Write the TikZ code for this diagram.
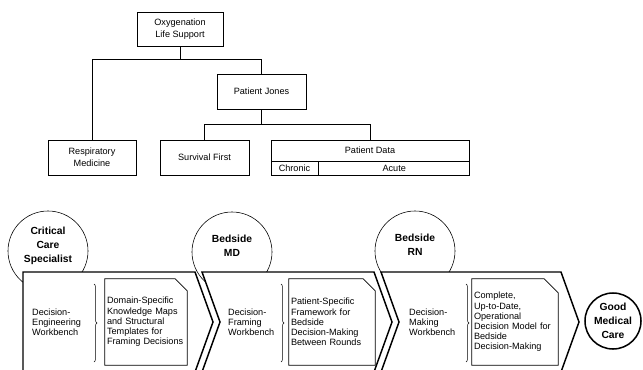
\documentclass[tikz,border=0pt]{standalone}
\usepackage{fontspec}
\setmainfont{Liberation Sans}
\usetikzlibrary{positioning,calc,decorations.pathreplacing}
\newlength{\pu}
\setlength{\pu}{0.03cm}

\begin{document}
\begin{tikzpicture}
[x=0.03cm,y=-0.03cm,line join=miter,font=\fontsize{7.8}{10}\selectfont]
\tikzstyle{box}=[rectangle, draw, line width=0.6pt, minimum height=35\pu, align=center, inner sep=1pt]
\tikzstyle{cell}=[rectangle, draw, line width=0.6pt, inner sep=0pt, align=center]
\tikzstyle{role}=[circle, draw, line width=0.5pt, fill=white, minimum size=80\pu, inner sep=0pt, align=center, font=\fontsize{8.8}{12}\selectfont\bfseries]
\tikzstyle{goal}=[role, line width=1.3pt, minimum size=56\pu]
\tikzstyle{chev}=[draw, line width=1.25pt, fill=white]
\tikzstyle{bench}=[anchor=west, align=left, inner sep=0pt, font=\fontsize{7.8}{8.7}\selectfont]
\tikzstyle{doc}=[rectangle, inner xsep=2\pu, inner ysep=0pt, minimum height=86\pu, align=left, font=\fontsize{7.8}{8.7}\selectfont]
\tikzstyle{link}=[line width=0.6pt]
\tikzstyle{brc}=[decorate, decoration={brace, amplitude=2.5pt}, line width=0.4pt]

\clip (0,0) rectangle (643,370);

% case tree
\node[box, minimum width=86\pu, minimum height=34\pu] (oxy) at (180,29) {Oxygenation\\Life Support};
\node[box, minimum width=89\pu] (jones) at (261.5,91.5) {Patient Jones};
\node[box, minimum width=88\pu] (resp) at (92,157.5) {Respiratory\\Medicine};
\node[box, minimum width=89\pu] (surv) at (204.5,157.5) {Survival First};
\node[cell, minimum width=198\pu, minimum height=21\pu] (pdata) at (370,150.5) {Patient Data};
\node[cell, minimum width=47\pu, minimum height=14\pu, anchor=north west] (chronic) at (pdata.south west) {Chronic};
\node[cell, minimum width=151\pu, minimum height=14\pu, anchor=north west] (acute) at (chronic.north east) {Acute};

\draw[link] (oxy.south) -- ++(0,13) -| (resp.north);
\draw[link] (oxy.south) -- ++(0,13) -| (jones.north);
\draw[link] (jones.south) -- ++(0,15) -| (surv.north);
\draw[link] (jones.south) -- ++(0,15) -| (pdata.north);

% roles
\node[role] (ccs) at (48,251) {Critical\\Care\\Specialist\\[-2pt]\mbox{}};
\node[role] (bmd) at (232,252) {Bedside\\MD\\[-1pt]\mbox{}};
\node[role] (brn) at (415,251) {Bedside\\RN\\[-1pt]\mbox{}};

% chevrons
\draw[chev] (23,272) -- (195,272) -- (213,322) -- (195,372) -- (23,372) -- cycle;
\draw[chev] (202,272) -- (374,272) -- (392,322) -- (374,372) -- (202,372) -- (220,322) -- cycle;
\draw[chev] (381,272) -- (561,272) -- (579,322) -- (561,372) -- (381,372) -- (399,322) -- cycle;

% workbenches
\node[bench] (wb1) at (32,322) {Decision-\\Engineering\\Workbench};
\node[bench] (wb2) at (228,322) {Decision-\\Framing\\Workbench};
\node[bench] (wb3) at (409,322) {Decision-\\Making\\Workbench};

\draw[brc] (94,284) -- (94,362);
\draw[brc] (281,284) -- (281,362);
\draw[brc] (466,284) -- (466,362);

% products
\node[doc, text width=78\pu] (doc1) at (146,322) {Domain-Specific\\Knowledge Maps\\and Structural\\Templates for\\Framing Decisions};
\node[doc, text width=82\pu] (doc2) at (332,322) {Patient-Specific\\Framework for\\Bedside\\Decision-Making\\Between Rounds};
\node[doc, text width=82\pu] (doc3) at (515,322) {Complete,\\Up-to-Date,\\Operational\\Decision Model for\\Bedside\\Decision-Making};

\draw[link] (doc1.south west) -- (doc1.north west) -- ([xshift=-12\pu]doc1.north east) -- ([yshift=-12\pu]doc1.north east) -- (doc1.south east) -- cycle;
\draw[link] (doc2.south west) -- (doc2.north west) -- ([xshift=-12\pu]doc2.north east) -- ([yshift=-12\pu]doc2.north east) -- (doc2.south east) -- cycle;
\draw[link] (doc3.south west) -- (doc3.north west) -- ([xshift=-14\pu]doc3.north east) -- ([yshift=-14\pu]doc3.north east) -- (doc3.south east) -- cycle;

\node[goal] (gmc) at (613,321) {Good\\Medical\\Care};
\end{tikzpicture}
\end{document}
